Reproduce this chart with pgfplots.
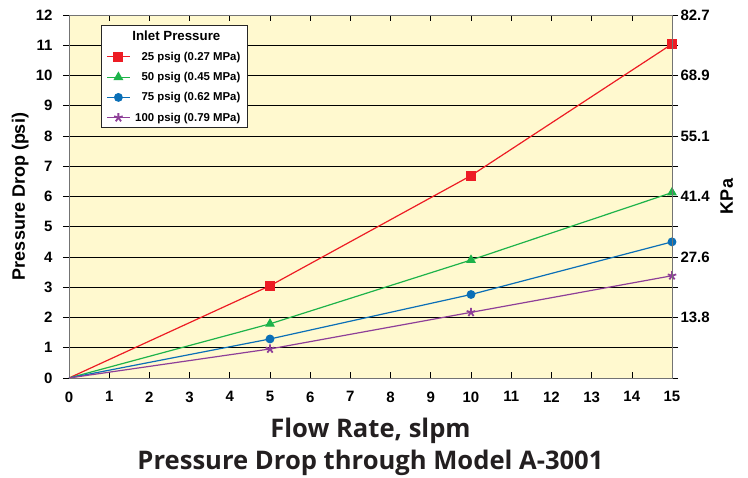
\documentclass[border=0pt]{standalone}
\usepackage{fontspec}
\setmainfont{Liberation Sans}
\newfontfamily\titlefont{Open Sans}
\usepackage{pgfplots}
\pgfplotsset{compat=1.18}

\definecolor{bgy}{HTML}{FFF9CF}
\definecolor{c25}{HTML}{ED1C24}
\definecolor{c50}{HTML}{1DB34A}
\definecolor{c75}{HTML}{0A6FB7}
\definecolor{c100}{HTML}{8E3F98}
\definecolor{ink}{HTML}{231F20}

\begin{document}
\begin{tikzpicture}
\begin{axis}[
    scale only axis,
    width=603pt, height=363pt,
    xmin=0, xmax=15, ymin=0, ymax=12,
    xtick={0,...,15}, ytick={0,...,12},
    ymajorgrids,
    major grid style={black, line width=0.6pt},
    axis background/.style={fill=bgy},
    axis line style={black!55, line width=0.8pt},
    tick style={black, line width=0.6pt},
    xtick align=inside, ytick align=outside,
    major tick length=6pt,
    /pgf/number format/assume math mode=true,
    ticklabel style={font=\fontsize{15}{17}\selectfont\bfseries},
    xticklabel style={yshift=-10pt},
    yticklabel style={xshift=-7pt},
    ylabel={Pressure Drop (psi)},
    ylabel style={font=\fontsize{18}{20}\selectfont\bfseries,
        at={(axis description cs:-0.081,0.5)}, anchor=center},
    xlabel={Flow Rate, slpm},
    xlabel style={font=\titlefont\fontsize{25.6}{28}\selectfont\bfseries, text=ink,
        at={(axis description cs:0.5,-0.1653)}, anchor=base},
    every axis title shift=0pt,
    title={Pressure Drop through Model A-3001},
    title style={font=\titlefont\fontsize{25.6}{28}\selectfont\bfseries, text=ink,
        at={(axis description cs:0.5,-0.2534)}, anchor=base},
    legend style={at={(0.0531,0.9725)}, anchor=north west, draw=black!85, line width=0.8pt,
        fill=white, font=\fontsize{11.4}{13}\selectfont\bfseries,
        row sep=6.5pt, inner xsep=5pt, inner ysep=3pt},
    legend cell align=right,
    legend image code/.code={
        \draw[mark repeat=2, mark phase=2] plot coordinates {(0cm,0cm) (0.4cm,0cm) (0.8cm,0cm)};
    },
    every axis plot/.append style={line width=1.2pt, mark phase=2},
]
\addlegendimage{empty legend}
\addlegendentry{\fontsize{13.3}{15}\selectfont Inlet Pressure\hspace*{20pt}}

\addplot[c25, mark=square*, mark size=4.5pt] coordinates {
    (0,0) (5,3.05) (10,6.69) (15,11.04)
};
\addlegendentry{25 psig (0.27 MPa)}

\addplot[c50, mark=triangle*, mark size=4.5pt] coordinates {
    (0,0) (5,1.79) (10,3.9) (15,6.13)
};
\addlegendentry{50 psig (0.45 MPa)}

\addplot[c75, mark=*, mark size=3.8pt] coordinates {
    (0,0) (5,1.29) (10,2.76) (15,4.5)
};
\addlegendentry{75 psig (0.62 MPa)}

\addplot[c100, mark=star, mark size=4.5pt, mark options={line width=1.8pt}] coordinates {
    (0,0) (5,0.96) (10,2.17) (15,3.38)
};
\addlegendentry{100 psig (0.79 MPa)}
\end{axis}

\begin{axis}[
    scale only axis,
    width=603pt, height=363pt,
    xmin=0, xmax=15, ymin=0, ymax=12,
    axis x line=none,
    axis y line*=right,
    axis line style={black!55, line width=0.8pt},
    ytick={2,4,...,12},
    yticklabels={13.8,27.6,41.4,55.1,68.9,82.7},
    major tick length=0pt,
    ticklabel style={font=\fontsize{15}{17}\selectfont\bfseries},
    yticklabel style={xshift=5pt},
    ylabel={KPa},
    ylabel style={font=\fontsize{18}{20}\selectfont\bfseries,
        at={(axis description cs:1.091,0.5)}, anchor=center},
]
\end{axis}
\pgfresetboundingbox
\path (-69pt,-100pt) rectangle (679pt,378pt);
\end{tikzpicture}
\end{document}
